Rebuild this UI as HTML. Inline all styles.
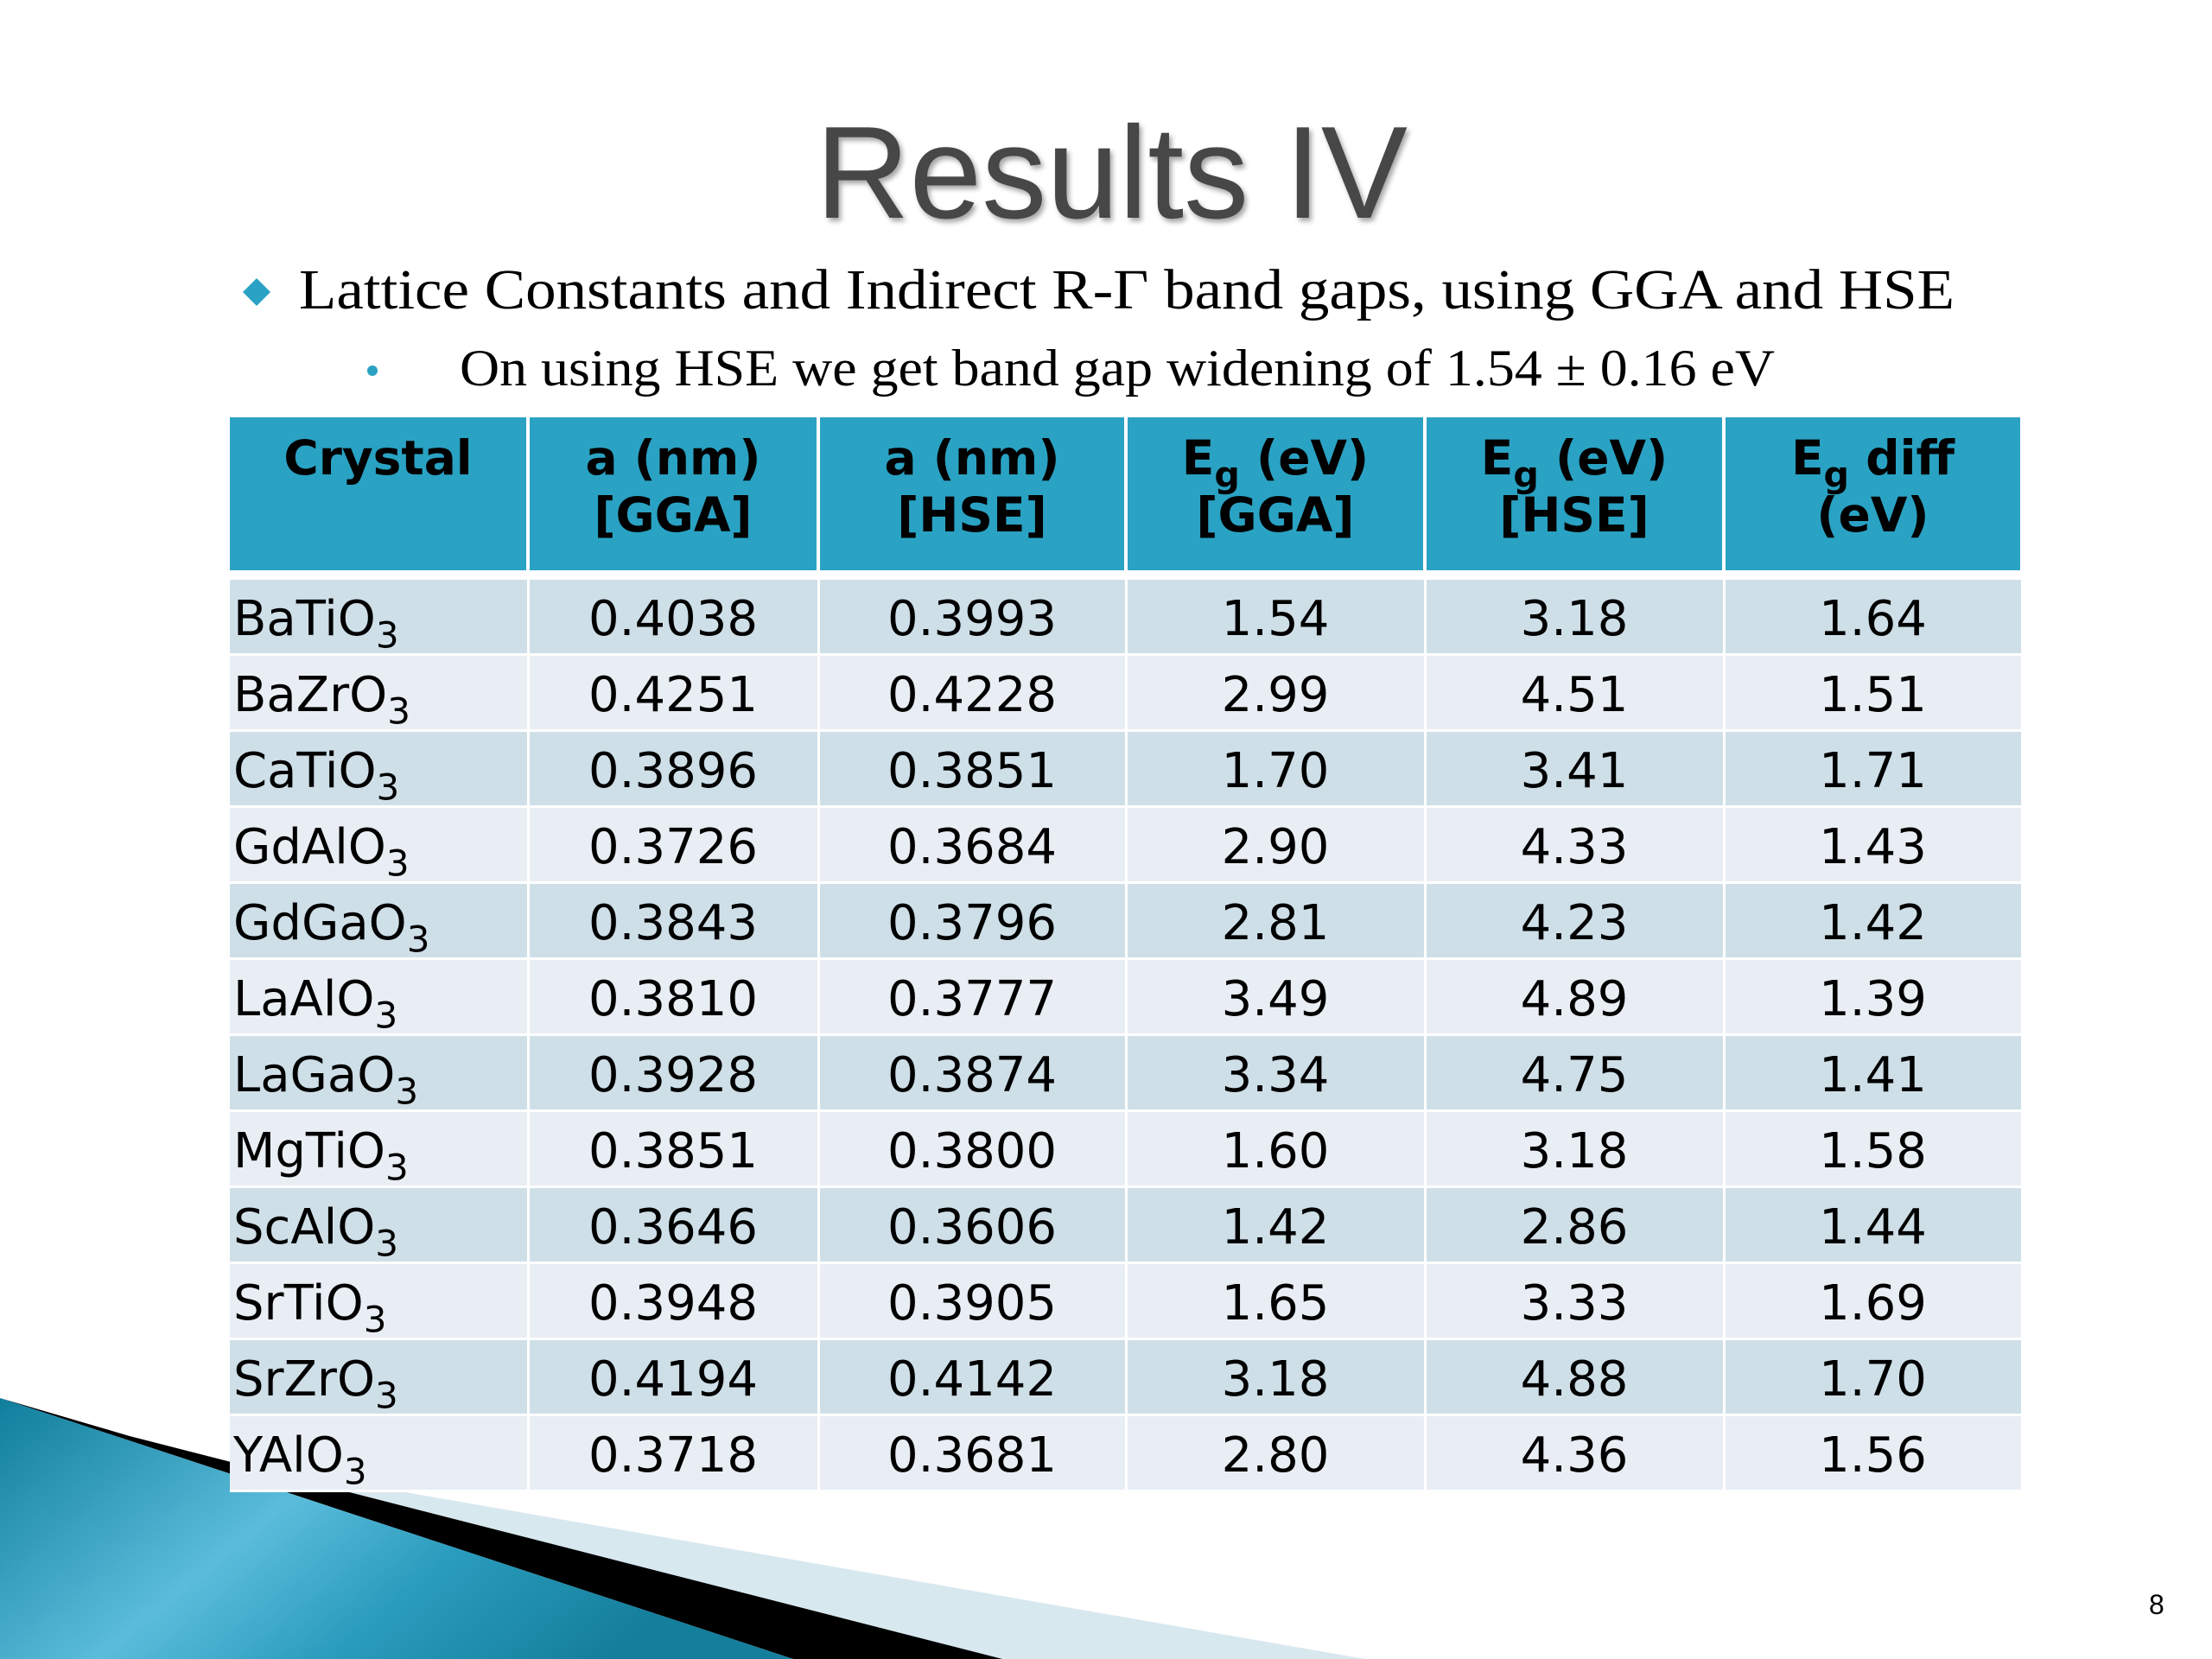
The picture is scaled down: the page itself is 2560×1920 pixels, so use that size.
<!DOCTYPE html>
<html><head><meta charset="utf-8"><style>
html,body{margin:0;padding:0;background:#fff;}
#slide{position:relative;width:2560px;height:1920px;overflow:hidden;background:#fff;}
svg.abs{position:absolute;left:0;top:0;}
table{position:absolute;left:266px;top:483px;width:2074px;border-collapse:collapse;table-layout:fixed;font-family:"DejaVu Sans","Liberation Sans",sans-serif;}
th{background:#2aa2c3;color:#000;font-weight:bold;font-size:55px;line-height:66px;vertical-align:top;padding:14px 0 0 0;height:163px;border-left:4px solid #fff;border-right:4px solid #fff;text-align:center;}
tr.gap td{height:8px;padding:0;background:#fff;border:none;}
td{font-size:56px;height:79px;padding:6px 0 0 0;border:3px solid #fff;text-align:center;color:#000;vertical-align:middle;}
td.name{text-align:left;padding-left:4px;}
tr.odd td{background:#cfdfe8;}
tr.even td{background:#e8eef4;}
sub{font-size:0.75em;vertical-align:-0.35em;line-height:0;}
table tr td:first-child, table tr th:first-child{border-left:none;}
</style></head><body>
<div id="slide">
<svg class="abs" width="2560" height="1920">
<defs>
<linearGradient id="tg" x1="0" y1="0" x2="1" y2="0.4">
<stop offset="0" stop-color="#0f7e9c"/><stop offset="0.45" stop-color="#5bbcdb"/><stop offset="0.7" stop-color="#2a9cbd"/><stop offset="1" stop-color="#147f9c"/>
</linearGradient>
</defs>
<polygon points="266,1690 469,1727 1580,1920 960,1920" fill="#d8e8ef"/>
<polygon points="150,1662 1160,1920 918,1920 0,1618" fill="#000"/>
<polygon points="0,1618 918,1920 0,1920" fill="url(#tg)"/>
<text x="944" y="252" font-family="Liberation Sans, sans-serif" font-size="152" fill="#474747" textLength="685" lengthAdjust="spacingAndGlyphs" style="filter:drop-shadow(3px 4px 3px rgba(0,0,0,0.35))">Results IV</text>
<polygon points="297,322 313,338 297,354 281,338" fill="#2aa2c3"/>
<text x="346" y="357" font-family="Liberation Serif, serif" font-size="66" fill="#000" textLength="1916" lengthAdjust="spacingAndGlyphs">Lattice Constants and Indirect R-Γ band gaps, using GGA and HSE</text>
<circle cx="431" cy="429" r="6" fill="#2aa2c3"/>
<text x="532" y="446" font-family="Liberation Serif, serif" font-size="60" fill="#000" textLength="1522" lengthAdjust="spacingAndGlyphs">On using HSE we get band gap widening of 1.54 ± 0.16 eV</text>
<text x="2487" y="1868" font-family="Liberation Sans, sans-serif" font-size="32" fill="#000">8</text>
</svg>
<table>
<colgroup><col style="width:345px"><col style="width:336px"><col style="width:356px"><col style="width:346px"><col style="width:346px"><col style="width:345px"></colgroup>
<tr>
<th>Crystal</th>
<th>a (nm)<br>[GGA]</th>
<th>a (nm)<br>[HSE]</th>
<th>E<sub>g</sub> (eV)<br>[GGA]</th>
<th>E<sub>g</sub> (eV)<br>[HSE]</th>
<th>E<sub>g</sub> diff<br>(eV)</th>
</tr>
<tr class="gap"><td colspan="6"></td></tr>
<tr class="odd"><td class="name">BaTiO<sub>3</sub></td><td>0.4038</td><td>0.3993</td><td>1.54</td><td>3.18</td><td>1.64</td></tr>
<tr class="even"><td class="name">BaZrO<sub>3</sub></td><td>0.4251</td><td>0.4228</td><td>2.99</td><td>4.51</td><td>1.51</td></tr>
<tr class="odd"><td class="name">CaTiO<sub>3</sub></td><td>0.3896</td><td>0.3851</td><td>1.70</td><td>3.41</td><td>1.71</td></tr>
<tr class="even"><td class="name">GdAlO<sub>3</sub></td><td>0.3726</td><td>0.3684</td><td>2.90</td><td>4.33</td><td>1.43</td></tr>
<tr class="odd"><td class="name">GdGaO<sub>3</sub></td><td>0.3843</td><td>0.3796</td><td>2.81</td><td>4.23</td><td>1.42</td></tr>
<tr class="even"><td class="name">LaAlO<sub>3</sub></td><td>0.3810</td><td>0.3777</td><td>3.49</td><td>4.89</td><td>1.39</td></tr>
<tr class="odd"><td class="name">LaGaO<sub>3</sub></td><td>0.3928</td><td>0.3874</td><td>3.34</td><td>4.75</td><td>1.41</td></tr>
<tr class="even"><td class="name">MgTiO<sub>3</sub></td><td>0.3851</td><td>0.3800</td><td>1.60</td><td>3.18</td><td>1.58</td></tr>
<tr class="odd"><td class="name">ScAlO<sub>3</sub></td><td>0.3646</td><td>0.3606</td><td>1.42</td><td>2.86</td><td>1.44</td></tr>
<tr class="even"><td class="name">SrTiO<sub>3</sub></td><td>0.3948</td><td>0.3905</td><td>1.65</td><td>3.33</td><td>1.69</td></tr>
<tr class="odd"><td class="name">SrZrO<sub>3</sub></td><td>0.4194</td><td>0.4142</td><td>3.18</td><td>4.88</td><td>1.70</td></tr>
<tr class="even"><td class="name">YAlO<sub>3</sub></td><td>0.3718</td><td>0.3681</td><td>2.80</td><td>4.36</td><td>1.56</td></tr>
</table>
</div>
</body></html>
